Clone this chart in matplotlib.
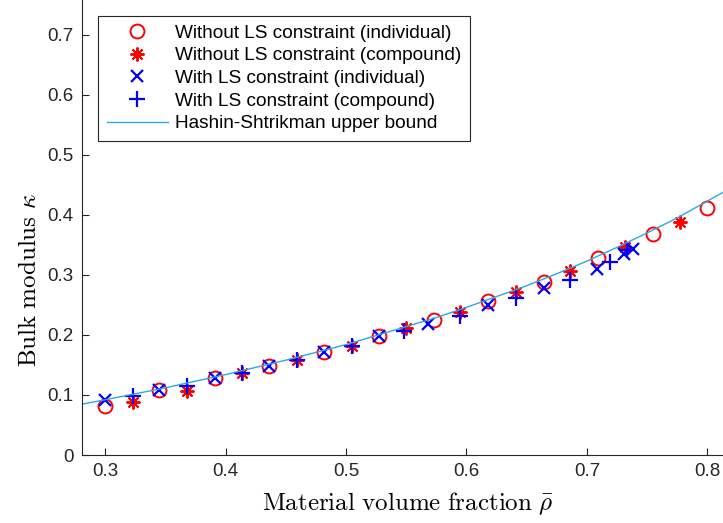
import matplotlib
matplotlib.use("Agg")
import matplotlib.pyplot as plt

plt.rcParams["font.family"] = ["Liberation Sans", "DejaVu Sans"]
plt.rcParams["mathtext.fontset"] = "cm"

# Without LS constraint
rho_ind = [0.300, 0.345, 0.391, 0.436, 0.482, 0.527, 0.573, 0.618, 0.664, 0.709, 0.755, 0.800]
kap_ind = [0.082, 0.108, 0.128, 0.149, 0.171, 0.198, 0.225, 0.256, 0.289, 0.328, 0.368, 0.412]
rho_cmp = [0.323, 0.368, 0.414, 0.459, 0.505, 0.550, 0.595, 0.641, 0.686, 0.732, 0.777]
kap_cmp = [0.089, 0.107, 0.136, 0.158, 0.182, 0.212, 0.238, 0.272, 0.307, 0.346, 0.389]

# With LS constraint
rho_ls_ind = [0.300, 0.345, 0.391, 0.436, 0.482, 0.527, 0.568, 0.618, 0.664, 0.708, 0.731, 0.738]
kap_ls_ind = [0.091, 0.108, 0.128, 0.149, 0.171, 0.198, 0.218, 0.250, 0.278, 0.310, 0.335, 0.343]
rho_ls_cmp = [0.323, 0.368, 0.414, 0.459, 0.505, 0.548, 0.595, 0.641, 0.686, 0.719, 0.733]
kap_ls_cmp = [0.098, 0.115, 0.136, 0.158, 0.182, 0.207, 0.231, 0.261, 0.292, 0.322, 0.342]

# Hashin-Shtrikman upper bound
rho_hs = [0.28, 0.30, 0.325, 0.35, 0.375, 0.40, 0.425, 0.45, 0.475, 0.50, 0.525, 0.55,
          0.575, 0.60, 0.625, 0.65, 0.675, 0.70, 0.725, 0.75, 0.775, 0.80, 0.8125]
kap_hs = [0.0845, 0.092, 0.102, 0.112, 0.123, 0.134, 0.146, 0.158, 0.171, 0.184, 0.199, 0.214,
          0.229, 0.246, 0.264, 0.282, 0.302, 0.323, 0.346, 0.370, 0.395, 0.423, 0.437]

fig = plt.figure(figsize=(7.23, 5.23), dpi=100)
ax = fig.add_axes([0.113, 0.13, 0.887, 0.87])

ax.plot(rho_ind, kap_ind, "o", color="red", mfc="none", ms=10, mew=1.4,
        label="Without LS constraint (individual)")
ax.plot(rho_cmp, kap_cmp, marker=(8, 2, 0), ls="none", color="red", ms=10, mew=1.4,
        label="Without LS constraint (compound)")
ax.plot(rho_ls_ind, kap_ls_ind, "x", color="blue", ms=8, mew=1.6,
        label="With LS constraint (individual)")
ax.plot(rho_ls_cmp, kap_ls_cmp, "+", color="blue", ms=11, mew=1.6,
        label="With LS constraint (compound)")
ax.plot(rho_hs, kap_hs, "-", color="#2BA8E8", lw=1.0,
        label="Hashin-Shtrikman upper bound")

ax.set_xlim(0.2805, 0.813)
ax.set_ylim(0, 0.758)
ax.set_xticks([0.3, 0.4, 0.5, 0.6, 0.7, 0.8])
ax.set_xticklabels(["0.3", "0.4", "0.5", "0.6", "0.7", "0.8"])
ax.set_yticks([0, 0.1, 0.2, 0.3, 0.4, 0.5, 0.6, 0.7])
ax.set_yticklabels(["0", "0.1", "0.2", "0.3", "0.4", "0.5", "0.6", "0.7"])

for s in ["top", "right"]:
    ax.spines[s].set_visible(False)
for s in ["left", "bottom"]:
    ax.spines[s].set_color("#262626")
    ax.spines[s].set_linewidth(0.8)
ax.tick_params(direction="in", length=5, width=0.8, colors="#262626",
               labelsize=13.5, pad=6)

ax.set_xlabel(r"$\mathrm{Material\ volume\ fraction}\ \bar{\rho}$", fontsize=18)
ax.xaxis.set_label_coords(0.508, -0.077)
ax.set_ylabel(r"$\mathrm{Bulk\ modulus}\ \kappa$", fontsize=18)
ax.yaxis.set_label_coords(-0.063, 0.385)

leg = ax.legend(loc="upper left", bbox_to_anchor=(0.026, 0.965), borderaxespad=0,
                fontsize=13.7, frameon=True, fancybox=False, framealpha=1,
                edgecolor="#262626", handlelength=3.2, handletextpad=0.4,
                labelspacing=0.28, borderpad=0.45)
leg.get_frame().set_linewidth(0.8)

fig.savefig("out.png", dpi=100)
